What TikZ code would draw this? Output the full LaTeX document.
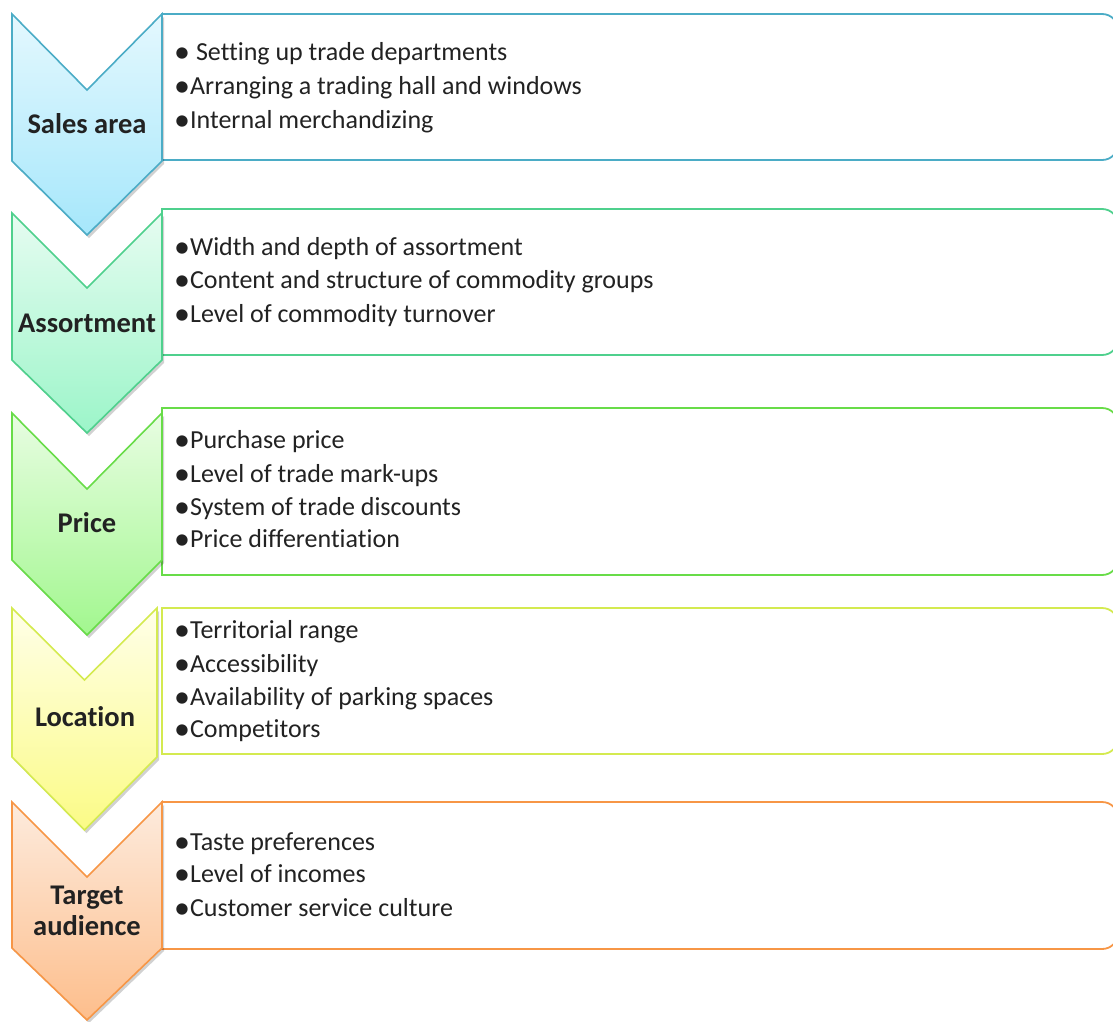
\documentclass[tikz,border=0pt]{standalone}
\usepackage{fontspec}
\setmainfont{Carlito}[Ligatures=NoCommon]
\usetikzlibrary{shadows}
\definecolor{txt}{HTML}{222222}
\definecolor{sA}{HTML}{4BACC6}\definecolor{tA}{HTML}{E4F8FE}\definecolor{bA}{HTML}{A6E7FB}
\definecolor{sB}{HTML}{4FD08D}\definecolor{tB}{HTML}{E6FCF1}\definecolor{bB}{HTML}{9CF5C9}
\definecolor{sC}{HTML}{68DC48}\definecolor{tC}{HTML}{E8FDE2}\definecolor{bC}{HTML}{A2F78F}
\definecolor{sD}{HTML}{D4EA50}\definecolor{tD}{HTML}{FFFFE8}\definecolor{bD}{HTML}{FBFB86}
\definecolor{sE}{HTML}{F79646}\definecolor{tE}{HTML}{FDEBDD}\definecolor{bE}{HTML}{FDBE8C}
\tikzset{
  itembox/.style={line width=1.8pt, fill=white},
  chev/.style={line width=1.6pt, line join=miter,
    drop shadow={shadow xshift=2pt, shadow yshift=-3pt, opacity=0.18, fill=black}},
  itm/.style={anchor=base west, inner sep=0pt, text=txt, font=\fontsize{26}{31}\selectfont},
  lbl/.style={anchor=base, inner sep=0pt, text=txt, font=\fontsize{28.5}{34}\selectfont\bfseries},
}
\newcommand\bul{{\fontsize{32}{32}\selectfont\raisebox{-2pt}{•}}}
\newcommand\boxpath[4]{% color, top, bottom, name
  \draw[itembox, draw=#1] (162,#2) -- (1102,#2) .. controls (1111,#2) and (1118,#2+7) .. (1118,#2+16)
     -- (1118,#3-16) .. controls (1118,#3-7) and (1111,#3) .. (1102,#3) -- (162,#3) -- cycle;
  \coordinate (#4) at (162,#2);}
\newcommand\chevpath[9]{% stroke, topcol, botcol, left, right, top, notch, shoulder, tip
  \draw[chev, draw=#1, top color=#2, bottom color=#3]
     (#4,#6) -- ({(#4+#5)/2},#7) -- (#5,#6) -- (#5,#8) -- ({(#4+#5)/2},#9) -- (#4,#8) -- cycle;}
\begin{document}
\begin{tikzpicture}[x=1pt,y=-1pt]
\useasboundingbox (0,0) rectangle (1113,1021);
\clip (0,0) rectangle (1113,1021);
% boxes
\boxpath{sA}{14}{160}{boxA}
\boxpath{sB}{209}{355}{boxB}
\boxpath{sC}{408}{575}{boxC}
\boxpath{sD}{608}{754}{boxD}
\boxpath{sE}{802}{949}{boxE}
% chevrons
\chevpath{sA}{tA}{bA}{12}{162}{14}{90}{161}{235}
\chevpath{sB}{tB}{bB}{12}{162}{213}{288}{360}{433}
\chevpath{sC}{tC}{bC}{12}{162}{413}{489}{560}{635}
\chevpath{sD}{tD}{bD}{12}{157}{608}{680}{757}{830}
\chevpath{sE}{tE}{bE}{12}{162}{802}{877}{948}{1020}
% labels
\node[lbl] (lA) at (87,133) {Sales area};
\node[lbl] (lB) at (87,332) {Assortment};
\node[lbl] (lC) at (87,532) {Price};
\node[lbl] (lD) at (85,726) {Location};
\node[lbl] (lE1) at (87,904) {Target};
\node[lbl] (lE2) at (87,935) {audience};
% items
\node[itm] (a1) at (174,60) {\bul\ Setting up trade departments};
\node[itm] (a2) at (174,94) {\bul Arranging a trading hall and windows};
\node[itm] (a3) at (174,128) {\bul Internal merchandizing};
\node[itm] (b1) at (174,255) {\bul Width and depth of assortment};
\node[itm] (b2) at (174,288) {\bul Content and structure of commodity groups};
\node[itm] (b3) at (174,322) {\bul Level of commodity turnover};
\node[itm] (c1) at (174,448) {\bul Purchase price};
\node[itm] (c2) at (174,482) {\bul Level of trade mark-ups};
\node[itm] (c3) at (174,515) {\bul System of trade discounts};
\node[itm] (c4) at (174,547) {\bul Price differentiation};
\node[itm] (d1) at (174,638) {\bul Territorial range};
\node[itm] (d2) at (174,672) {\bul Accessibility};
\node[itm] (d3) at (174,705) {\bul Availability of parking spaces};
\node[itm] (d4) at (174,737) {\bul Competitors};
\node[itm] (e1) at (174,850) {\bul Taste preferences};
\node[itm] (e2) at (174,882) {\bul Level of incomes};
\node[itm] (e3) at (174,916) {\bul Customer service culture};
\end{tikzpicture}
\end{document}
